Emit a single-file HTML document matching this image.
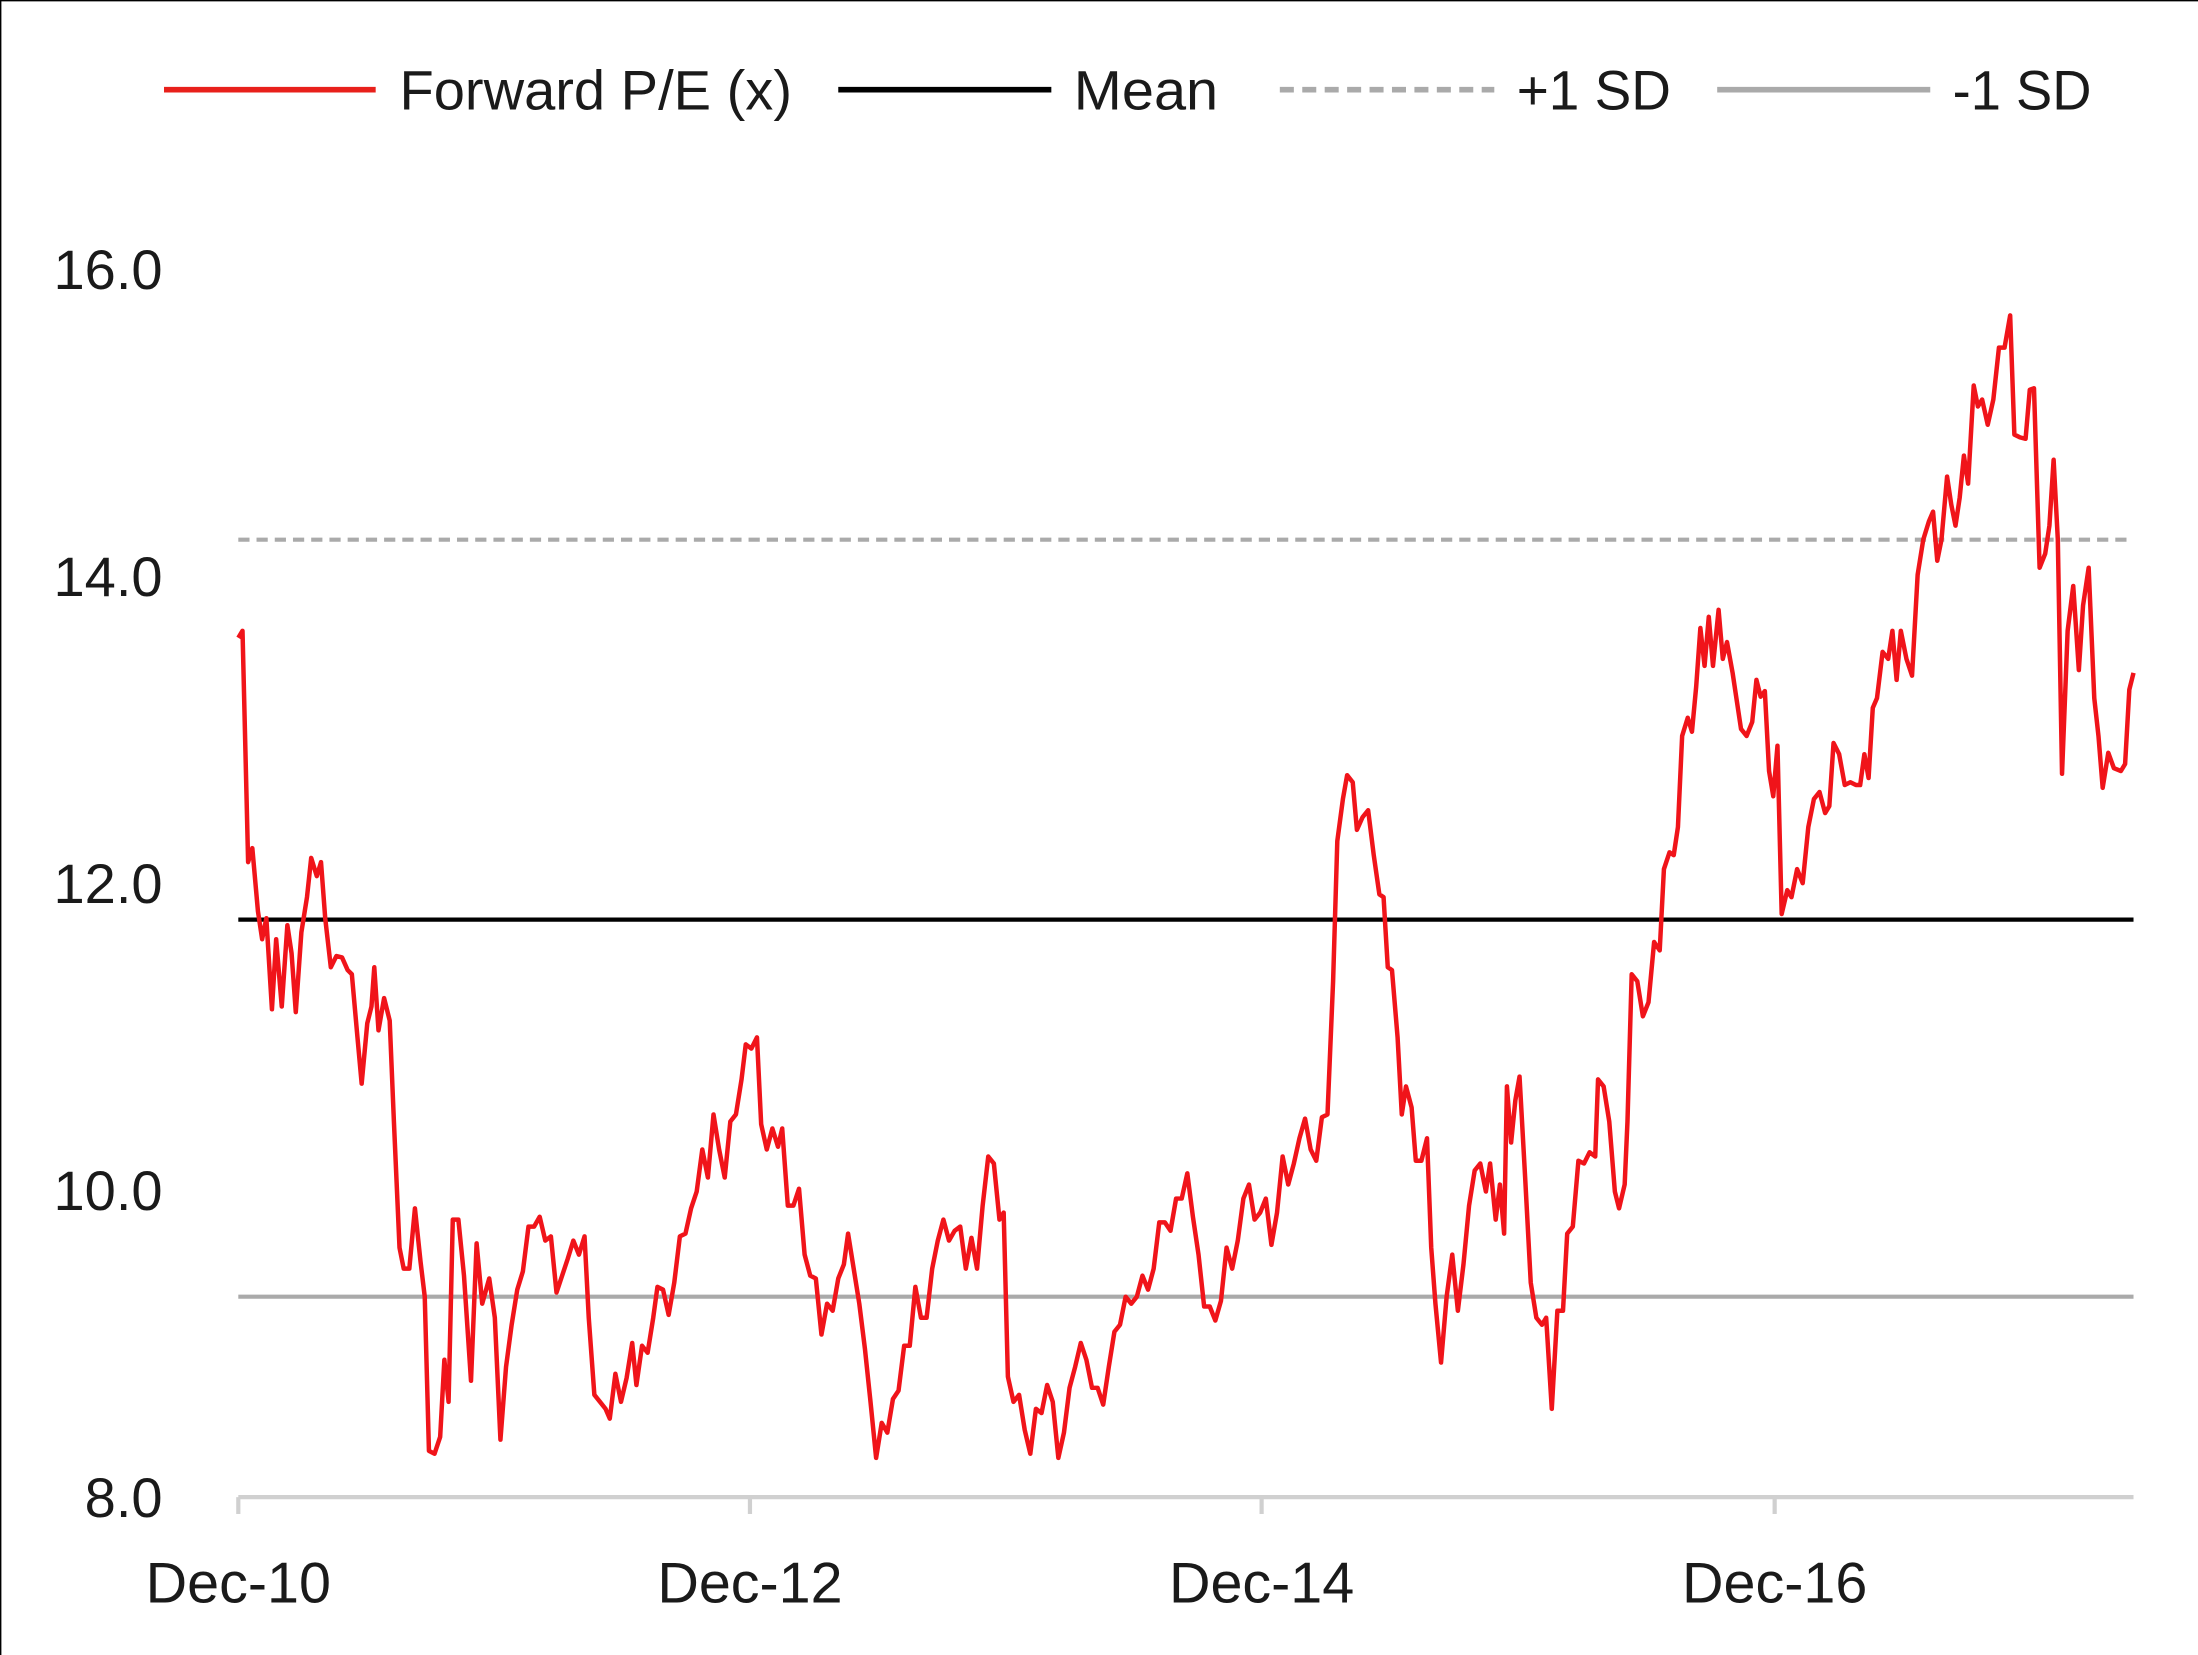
<!DOCTYPE html>
<html><head><meta charset="utf-8"><style>
html,body{margin:0;padding:0;background:#fff;}
svg{display:block;}
text{font-family:"Liberation Sans",sans-serif;fill:#1a1a1a;}
</style></head><body>
<svg width="2198" height="1655" viewBox="0 0 1568 1180.6" preserveAspectRatio="none">
<rect x="0" y="0" width="1568" height="1180.6" fill="#fff"/>
<line x1="0.5" y1="0" x2="0.5" y2="1181" stroke="#000" stroke-width="1"/>
<line x1="0" y1="0.5" x2="1568" y2="0.5" stroke="#000" stroke-width="1"/>
<!-- legend -->
<line x1="117" y1="64" x2="268" y2="64" stroke="#e8201b" stroke-width="4"/>
<text x="285" y="78" font-size="40" textLength="280" lengthAdjust="spacingAndGlyphs">Forward P/E (x)</text>
<line x1="598" y1="64" x2="750" y2="64" stroke="#000" stroke-width="4"/>
<text x="766" y="78" font-size="40" textLength="103" lengthAdjust="spacingAndGlyphs">Mean</text>
<line x1="913" y1="64" x2="1066" y2="64" stroke="#aaa" stroke-width="4" stroke-dasharray="10,6"/>
<text x="1082" y="78" font-size="40" textLength="110" lengthAdjust="spacingAndGlyphs">+1 SD</text>
<line x1="1225" y1="64" x2="1377" y2="64" stroke="#aaa" stroke-width="4"/>
<text x="1393" y="78" font-size="40" textLength="99" lengthAdjust="spacingAndGlyphs">-1 SD</text>
<!-- y labels -->
<g font-size="40" text-anchor="end">
<text x="116" y="206">16.0</text>
<text x="116" y="425">14.0</text>
<text x="116" y="644">12.0</text>
<text x="116" y="863">10.0</text>
<text x="116" y="1082">8.0</text>
</g>
<!-- x axis -->
<line x1="170" y1="1068" x2="1522" y2="1068" stroke="#d0d0d0" stroke-width="3"/>
<g stroke="#d0d0d0" stroke-width="3">
<line x1="170" y1="1068" x2="170" y2="1080"/><line x1="535" y1="1068" x2="535" y2="1080"/>
<line x1="900" y1="1068" x2="900" y2="1080"/><line x1="1266" y1="1068" x2="1266" y2="1080"/>
</g>
<g font-size="41" text-anchor="middle">
<text x="170" y="1143">Dec-10</text><text x="535" y="1143">Dec-12</text>
<text x="900" y="1143">Dec-14</text><text x="1266" y="1143">Dec-16</text>
</g>
<!-- reference lines -->
<line x1="170" y1="385" x2="1522" y2="385" stroke="#aaa" stroke-width="3" stroke-dasharray="8,5"/>
<line x1="170" y1="925" x2="1522" y2="925" stroke="#aaa" stroke-width="3"/>
<line x1="170" y1="656" x2="1522" y2="656" stroke="#000" stroke-width="3"/>
<polyline fill="none" stroke="#f0141a" stroke-width="3.2" stroke-linejoin="round" points="170,455 173,450 177,615 180,605 184,650 187,670 190,655 194,720 197,670 201,718 205,660 208,680 211,722 215,665 219,640 222,612 226,625 229,615 232,655 236,690 240,682 244,683 248,692 251,695 255,740 258,773 262,730 265,718 267,690 270,735 274,712 278,728 281,800 285,890 288,905 292,905 296,862 300,900 303,925 306,1035 310,1037 314,1025 317,970 320,1000 323,870 327,870 331,910 336,985 340,887 344,930 349,912 353,940 357,1027 361,975 365,945 369,920 373,907 377,875 381,875 385,868 389,885 393,882 397,922 401,910 405,898 409,885 413,895 417,882 420,940 424,995 428,1000 432,1005 435,1012 439,980 443,1000 447,983 451,958 454,988 458,960 462,965 466,940 469,918 473,920 477,938 481,915 485,882 489,880 493,862 497,850 501,820 505,840 509,795 513,820 517,840 521,800 525,795 529,770 532,745 536,748 540,740 543,802 547,820 551,805 555,818 558,805 562,860 566,860 570,848 574,895 578,910 582,912 586,952 590,930 594,935 598,912 602,902 605,880 609,905 613,930 617,962 621,1000 625,1040 629,1015 633,1022 637,998 641,992 645,960 649,960 653,918 657,940 661,940 665,905 669,885 673,870 677,885 681,878 685,875 689,905 693,883 697,905 701,860 705,825 709,830 713,870 716,865 719,982 723,1000 727,995 731,1020 735,1037 739,1005 743,1008 747,988 751,1000 755,1040 759,1022 763,990 767,975 771,958 775,970 779,990 783,990 787,1002 791,975 795,950 799,945 803,925 807,930 811,925 815,910 819,920 823,905 827,872 831,872 835,878 839,855 843,855 847,837 851,868 855,895 859,932 863,932 867,942 871,928 875,890 879,905 883,885 887,855 891,845 895,870 899,865 903,855 907,888 911,865 915,825 919,845 923,830 927,812 931,798 935,820 939,828 943,797 947,795 951,700 954,600 958,570 961,553 965,558 968,592 972,583 976,578 980,610 984,638 987,640 990,690 993,692 997,740 1000,795 1003,775 1007,790 1010,828 1014,828 1018,812 1021,890 1024,930 1028,972 1032,925 1036,895 1040,935 1044,902 1048,860 1052,835 1056,830 1060,850 1063,830 1067,870 1070,845 1073,880 1075,775 1078,815 1081,785 1084,768 1088,840 1092,915 1096,940 1100,945 1103,940 1107,1005 1111,935 1115,935 1118,880 1122,875 1126,828 1130,830 1134,822 1138,825 1140,770 1144,775 1148,800 1152,850 1155,862 1159,845 1161,800 1164,695 1168,700 1172,725 1176,715 1180,672 1184,678 1187,620 1191,608 1194,610 1197,590 1200,525 1204,512 1207,522 1210,490 1213,448 1216,475 1219,440 1222,475 1226,435 1229,470 1232,458 1236,480 1239,500 1242,520 1246,525 1250,515 1253,485 1256,497 1259,493 1262,550 1265,568 1268,532 1271,652 1275,635 1278,640 1282,620 1286,630 1290,590 1294,570 1298,565 1302,580 1305,575 1308,530 1312,538 1316,560 1320,558 1324,560 1327,560 1330,538 1333,555 1336,505 1339,498 1343,465 1347,470 1350,450 1353,485 1356,450 1360,470 1364,482 1368,410 1372,385 1376,372 1379,365 1382,400 1385,385 1389,340 1392,360 1395,375 1398,355 1401,325 1404,345 1408,275 1411,290 1414,285 1418,303 1422,285 1426,248 1430,248 1434,225 1437,310 1441,312 1445,313 1448,278 1451,277 1455,405 1459,395 1462,375 1465,328 1468,385 1471,552 1475,450 1479,418 1483,478 1486,432 1490,405 1494,498 1497,525 1500,562 1504,537 1508,548 1513,550 1516,545 1519,492 1522,480"/>
</svg>
</body></html>
